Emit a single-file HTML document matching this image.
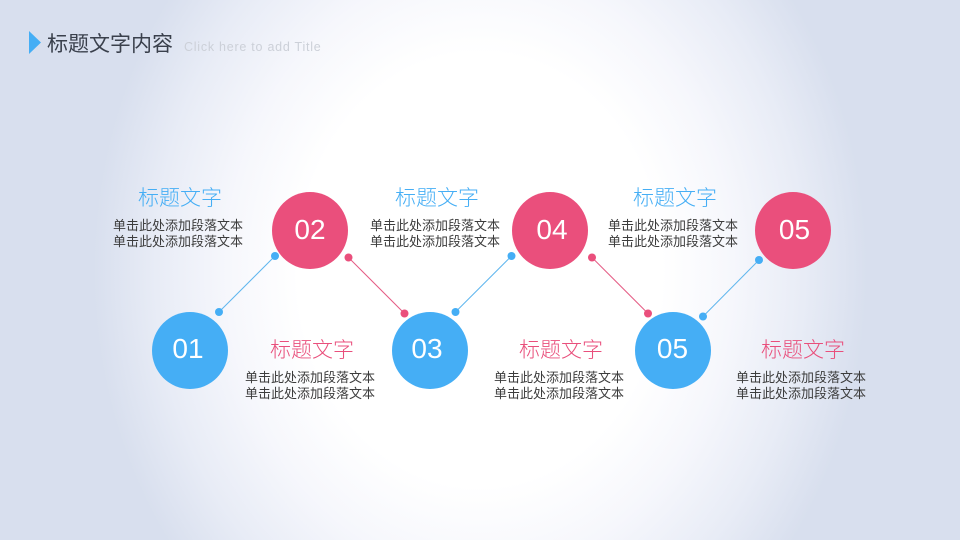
<!DOCTYPE html>
<html lang="zh"><head><meta charset="utf-8"><style>
html,body{margin:0;padding:0}
body{width:960px;height:540px;overflow:hidden;position:relative;font-family:"Liberation Sans","Noto Sans CJK SC",sans-serif;background:#d8dfee}
#bg{position:absolute;left:0;top:0;width:960px;height:540px;background:radial-gradient(ellipse 395px 470px at 480px 270px,#fff 0%,#fff 46%,#f6f7fc 64%,#e8ecf6 82%,#d8dfee 98%)}
.t,.h,.b,.n{position:absolute;white-space:nowrap}
.h{font-size:21px;line-height:24px;width:120px;text-align:center;font-weight:300}
.blue{color:#45aef5}.pink{color:#e94f7c}
.b{font-size:13px;line-height:16px;width:140px;text-align:center;color:#3c3c3c;font-weight:400}
.n{width:76px;height:77px;border-radius:50%;color:#fff;font-size:28px;line-height:75px;text-align:center}
.n span{position:relative}
.nb{background:#45aef5}.np{background:#ea4f7c}
svg{position:absolute;left:0;top:0}
</style></head><body>
<div id="bg"></div>
<svg width="960" height="540">
<polygon points="29,31 41,42.500 29,54" fill="#45aef5"/>
<g stroke="#5fb6ee" stroke-width="1" fill="#45aef5">
<line x1="219" y1="312" x2="275" y2="256"/><line x1="455.500" y1="312" x2="511.500" y2="256"/><line x1="703" y1="316.500" x2="759" y2="260"/>
</g>
<g stroke="#e45c85" stroke-width="1">
<line x1="348.500" y1="257.500" x2="404.500" y2="313.500"/><line x1="592" y1="257.500" x2="648" y2="313.500"/>
</g>
<g fill="#45aef5">
<circle cx="219" cy="312" r="4"/><circle cx="275" cy="256" r="4"/><circle cx="455.500" cy="312" r="4"/><circle cx="511.500" cy="256" r="4"/><circle cx="703" cy="316.500" r="4"/><circle cx="759" cy="260" r="4"/>
</g>
<g fill="#ea4f7c">
<circle cx="348.500" cy="257.500" r="4"/><circle cx="404.500" cy="313.500" r="4"/><circle cx="592" cy="257.500" r="4"/><circle cx="648" cy="313.500" r="4"/>
</g>
</svg>
<div class="t" style="left:47px;top:31px;font-size:21px;line-height:28px;color:#3a404c;font-weight:400">标题文字内容</div>
<div class="t" style="left:184px;top:39px;font-size:12.500px;line-height:16px;color:#ccd0d8;letter-spacing:.75px">Click here to add Title</div>

<div class="n nb" style="left:152px;top:312px;line-height:73px"><span style="left:-2px">01</span></div>
<div class="n np" style="left:272px;top:192px"><span>02</span></div>
<div class="n nb" style="left:392px;top:312px;line-height:73px"><span style="left:-3px">03</span></div>
<div class="n np" style="left:512px;top:192px"><span style="left:2px">04</span></div>
<div class="n nb" style="left:634.500px;top:312px;line-height:73px"><span>05</span></div>
<div class="n np" style="left:754.500px;top:192px"><span style="left:2px">05</span></div>

<div class="h blue" style="left:120px;top:187px">标题文字</div>
<div class="b" style="left:108px;top:218px">单击此处添加段落文本<br>单击此处添加段落文本</div>
<div class="h blue" style="left:377px;top:187px">标题文字</div>
<div class="b" style="left:365px;top:218px">单击此处添加段落文本<br>单击此处添加段落文本</div>
<div class="h blue" style="left:615px;top:187px">标题文字</div>
<div class="b" style="left:603px;top:218px">单击此处添加段落文本<br>单击此处添加段落文本</div>

<div class="h pink" style="left:252px;top:339px">标题文字</div>
<div class="b" style="left:240px;top:370px">单击此处添加段落文本<br>单击此处添加段落文本</div>
<div class="h pink" style="left:501px;top:339px">标题文字</div>
<div class="b" style="left:489px;top:370px">单击此处添加段落文本<br>单击此处添加段落文本</div>
<div class="h pink" style="left:743px;top:339px">标题文字</div>
<div class="b" style="left:731px;top:370px">单击此处添加段落文本<br>单击此处添加段落文本</div>
</body></html>
